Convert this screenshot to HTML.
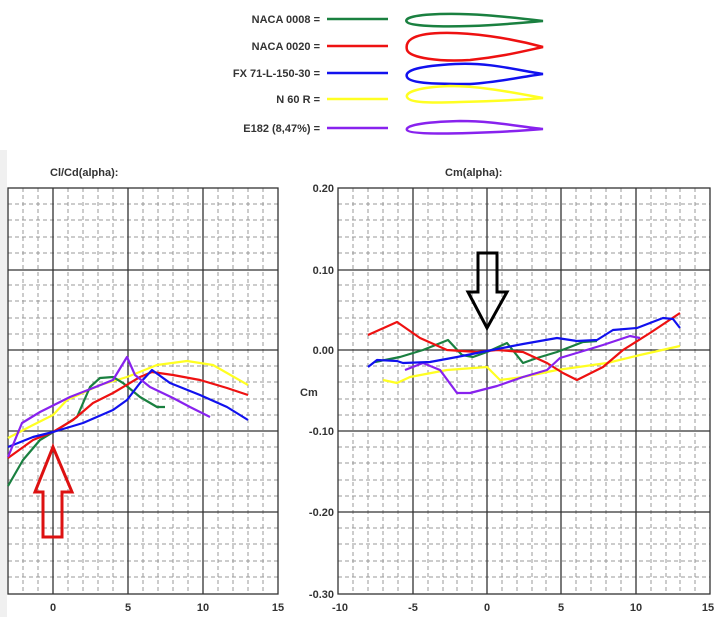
<!DOCTYPE html>
<html><head><meta charset="utf-8"><style>
html,body{margin:0;padding:0;background:#fff}
svg{display:block}
text{font-family:"Liberation Sans",Arial,sans-serif;font-weight:bold;fill:#333}
</style></head><body>
<svg width="720" height="617" viewBox="0 0 720 617" xmlns="http://www.w3.org/2000/svg">
<rect x="0" y="0" width="720" height="617" fill="#fff"/>
<rect x="0" y="150" width="7" height="467" fill="#f0f0f0"/>
<!-- legend -->
<g font-size="11" text-anchor="end">
<text x="320" y="23">NACA 0008 =</text>
<text x="320" y="50">NACA 0020 =</text>
<text x="320" y="77">FX 71-L-150-30 =</text>
<text x="320" y="103">N 60 R =</text>
<text x="320" y="132">E182 (8,47%) =</text>
</g>
<g stroke-width="2.5" fill="none">
<line x1="327" y1="19" x2="388" y2="19" stroke="#1a8040"/>
<line x1="327" y1="46" x2="388" y2="46" stroke="#ee1111"/>
<line x1="327" y1="73" x2="388" y2="73" stroke="#1111ee"/>
<line x1="327" y1="99" x2="388" y2="99" stroke="#ffff22"/>
<line x1="327" y1="128" x2="388" y2="128" stroke="#8822ee"/>
<path d="M543,21 C500,16 470,13 440,14 C410,15 404,19 407,22 C410,26 440,27 470,26 C500,25 520,23 543,21Z" stroke="#1a8040"/>
<path d="M543,47 C510,38 470,32 440,33 C410,34 405,42 407,50 C410,58 440,62 470,60 C500,57 520,52 543,47Z" stroke="#ee1111"/>
<path d="M543,74 C520,71 490,62 455,64 C420,66 404,70 407,77 C410,84 440,84 470,84 C500,82 520,77 543,74Z" stroke="#1111ee"/>
<path d="M543,98 C510,92 480,86 450,86 C420,87 405,92 407,97 C409,103 430,103 460,102 C500,101 520,100 543,98Z" stroke="#ffff22"/>
<path d="M543,129 C520,127 495,121 460,121 C420,122 405,126 407,130 C409,134 440,134 470,133 C500,132 520,131 543,129Z" stroke="#8822ee"/>
</g>
<!-- titles -->
<text x="50" y="176" font-size="11">Cl/Cd(alpha):</text>
<text x="445" y="176" font-size="11">Cm(alpha):</text>
<!-- left grid -->
<g stroke="#999" stroke-width="1" stroke-dasharray="4,3" id="lg">
<line x1="23" y1="188" x2="23" y2="594"/><line x1="38" y1="188" x2="38" y2="594"/>
<line x1="68" y1="188" x2="68" y2="594"/><line x1="83" y1="188" x2="83" y2="594"/><line x1="98" y1="188" x2="98" y2="594"/><line x1="113" y1="188" x2="113" y2="594"/>
<line x1="143" y1="188" x2="143" y2="594"/><line x1="158" y1="188" x2="158" y2="594"/><line x1="173" y1="188" x2="173" y2="594"/><line x1="188" y1="188" x2="188" y2="594"/>
<line x1="218" y1="188" x2="218" y2="594"/><line x1="233" y1="188" x2="233" y2="594"/><line x1="248" y1="188" x2="248" y2="594"/><line x1="263" y1="188" x2="263" y2="594"/>
</g>
<g stroke="#999" stroke-width="1" stroke-dasharray="4,3">
<line x1="8" y1="204" x2="278" y2="204"/><line x1="8" y1="220" x2="278" y2="220"/><line x1="8" y1="237" x2="278" y2="237"/><line x1="8" y1="253" x2="278" y2="253"/>
<line x1="8" y1="285" x2="278" y2="285"/><line x1="8" y1="301" x2="278" y2="301"/><line x1="8" y1="318" x2="278" y2="318"/><line x1="8" y1="334" x2="278" y2="334"/>
<line x1="8" y1="366" x2="278" y2="366"/><line x1="8" y1="382" x2="278" y2="382"/><line x1="8" y1="399" x2="278" y2="399"/><line x1="8" y1="415" x2="278" y2="415"/>
<line x1="8" y1="447" x2="278" y2="447"/><line x1="8" y1="463" x2="278" y2="463"/><line x1="8" y1="480" x2="278" y2="480"/><line x1="8" y1="496" x2="278" y2="496"/>
<line x1="8" y1="528" x2="278" y2="528"/><line x1="8" y1="544" x2="278" y2="544"/><line x1="8" y1="561" x2="278" y2="561"/><line x1="8" y1="577" x2="278" y2="577"/>
</g>
<g stroke="#333" stroke-width="1.3">
<rect x="8" y="188" width="270" height="406" fill="none"/>
<line x1="53" y1="188" x2="53" y2="594"/><line x1="128" y1="188" x2="128" y2="594"/><line x1="203" y1="188" x2="203" y2="594"/>
<line x1="8" y1="270" x2="278" y2="270"/><line x1="8" y1="350" x2="278" y2="350"/><line x1="8" y1="431" x2="278" y2="431"/><line x1="8" y1="512" x2="278" y2="512"/>
</g>
<!-- right grid -->
<g stroke="#999" stroke-width="1" stroke-dasharray="4,3">
<line x1="353" y1="188" x2="353" y2="594"/><line x1="368" y1="188" x2="368" y2="594"/><line x1="383" y1="188" x2="383" y2="594"/><line x1="398" y1="188" x2="398" y2="594"/>
<line x1="428" y1="188" x2="428" y2="594"/><line x1="443" y1="188" x2="443" y2="594"/><line x1="457" y1="188" x2="457" y2="594"/><line x1="472" y1="188" x2="472" y2="594"/>
<line x1="502" y1="188" x2="502" y2="594"/><line x1="517" y1="188" x2="517" y2="594"/><line x1="532" y1="188" x2="532" y2="594"/><line x1="546" y1="188" x2="546" y2="594"/>
<line x1="576" y1="188" x2="576" y2="594"/><line x1="591" y1="188" x2="591" y2="594"/><line x1="606" y1="188" x2="606" y2="594"/><line x1="621" y1="188" x2="621" y2="594"/>
<line x1="651" y1="188" x2="651" y2="594"/><line x1="666" y1="188" x2="666" y2="594"/><line x1="680" y1="188" x2="680" y2="594"/><line x1="695" y1="188" x2="695" y2="594"/>
<line x1="338" y1="204" x2="710" y2="204"/><line x1="338" y1="220" x2="710" y2="220"/><line x1="338" y1="237" x2="710" y2="237"/><line x1="338" y1="253" x2="710" y2="253"/>
<line x1="338" y1="285" x2="710" y2="285"/><line x1="338" y1="301" x2="710" y2="301"/><line x1="338" y1="318" x2="710" y2="318"/><line x1="338" y1="334" x2="710" y2="334"/>
<line x1="338" y1="366" x2="710" y2="366"/><line x1="338" y1="382" x2="710" y2="382"/><line x1="338" y1="399" x2="710" y2="399"/><line x1="338" y1="415" x2="710" y2="415"/>
<line x1="338" y1="447" x2="710" y2="447"/><line x1="338" y1="463" x2="710" y2="463"/><line x1="338" y1="480" x2="710" y2="480"/><line x1="338" y1="496" x2="710" y2="496"/>
<line x1="338" y1="528" x2="710" y2="528"/><line x1="338" y1="544" x2="710" y2="544"/><line x1="338" y1="561" x2="710" y2="561"/><line x1="338" y1="577" x2="710" y2="577"/>
</g>
<g stroke="#333" stroke-width="1.3">
<rect x="338" y="188" width="372" height="406" fill="none"/>
<line x1="413" y1="188" x2="413" y2="594"/><line x1="487" y1="188" x2="487" y2="594"/><line x1="561" y1="188" x2="561" y2="594"/><line x1="636" y1="188" x2="636" y2="594"/>
<line x1="338" y1="270" x2="710" y2="270"/><line x1="338" y1="350" x2="710" y2="350"/><line x1="338" y1="431" x2="710" y2="431"/><line x1="338" y1="512" x2="710" y2="512"/>
</g>
<!-- axis labels -->
<g font-size="11" text-anchor="end">
<text x="334" y="192">0.20</text><text x="334" y="274">0.10</text><text x="334" y="354">0.00</text>
<text x="334" y="435">-0.10</text><text x="334" y="516">-0.20</text><text x="334" y="598">-0.30</text>
</g>
<text x="300" y="396" font-size="11">Cm</text>
<g font-size="11" text-anchor="middle">
<text x="53" y="611">0</text><text x="128" y="611">5</text><text x="203" y="611">10</text><text x="278" y="611">15</text>
<text x="340" y="611">-10</text><text x="413" y="611">-5</text><text x="487" y="611">0</text><text x="561" y="611">5</text><text x="636" y="611">10</text><text x="708" y="611">15</text>
</g>
<!-- left curves -->
<g fill="none" stroke-width="2.2" stroke-linejoin="round">
<polyline stroke="#ffff22" points="8,438 33,425 53,415 67,400 100,385 127,377 157,365 187,361 213,365 248,385"/>
<polyline stroke="#1a8040" points="8,486 23,460 40,440 60,428 77,417 90,387 100,378 113,377 123,383 140,397 157,407 165,407"/>
<polyline stroke="#ee1111" points="8,458 33,440 53,432 73,420 93,403 113,393 140,377 152,372 173,375 200,380 227,388 248,395"/>
<polyline stroke="#1111ee" points="8,447 33,437 53,432 83,423 113,410 127,400 140,383 152,370 170,383 200,395 227,407 248,420"/>
<polyline stroke="#8822ee" points="8,457 22,423 40,412 70,397 93,388 113,380 127,357 135,375 150,387 173,398 190,407 210,417"/>
</g>
<!-- right curves -->
<g fill="none" stroke-width="2.2" stroke-linejoin="round">
<polyline stroke="#ffff22" points="383,380 397,383 410,377 447,370 487,367 500,380 523,377 557,370 607,363 640,355 680,346"/>
<polyline stroke="#1a8040" points="375,362 400,357 423,350 448,340 462,355 473,357 487,352 507,343 523,363 537,358 557,352 583,342 597,341"/>
<polyline stroke="#ee1111" points="368,335 397,322 420,338 447,350 477,352 497,350 523,352 547,363 563,373 577,380 603,367 623,350 650,333 680,313"/>
<polyline stroke="#8822ee" points="405,370 423,363 440,370 457,393 470,393 497,386 523,377 547,370 560,358 580,352 603,345 630,336 640,338"/>
<polyline stroke="#1111ee" points="368,367 377,360 397,361 403,363 430,362 457,357 487,351 523,344 557,338 577,341 597,340 613,330 637,328 663,318 673,319 680,328"/>
</g>
<!-- arrows -->
<path d="M478,253 L497,253 L497,292 L507,292 L487,328 L468,292 L478,292 Z" fill="none" stroke="#000" stroke-width="3"/>
<path d="M53,447 L72,492 L62,492 L62,537 L43,537 L43,492 L35,492 Z" fill="none" stroke="#dd1111" stroke-width="3"/>
</svg>
</body></html>
